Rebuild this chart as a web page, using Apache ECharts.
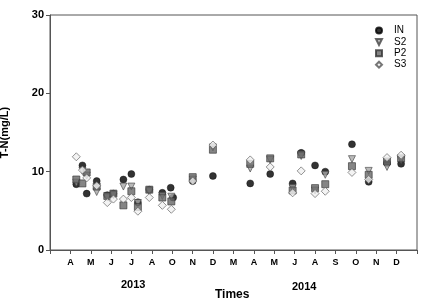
<!DOCTYPE html>
<html>
<head>
<meta charset="utf-8">
<script src="https://cdn.jsdelivr.net/npm/echarts@6/dist/echarts.min.js"></script>
<style>
  html, body { margin: 0; padding: 0; background: #fff; }
  #chart { width: 422px; height: 299px; }
</style>
</head>
<body>
<div id="chart"></div>
<script>
// month tick labels, one per x unit (0 and 18 are blank ends)
const monthLabels = ['', 'A', 'M', 'J', 'J', 'A', 'O', 'N', 'D', 'M', 'A', 'M', 'J', 'A', 'S', 'O', 'N', 'D', '']
const yearLabels = ['2013', '2014']

// sampling positions on the month axis
const sampleX = [1.29, 1.59, 1.80, 2.29, 2.81, 3.11, 3.60, 3.99, 4.31, 4.87, 5.51, 5.95, 7.0,
  7.99, 9.82, 10.8, 11.9, 12.32, 13.0, 13.5, 14.81, 15.63, 16.53, 17.22]
const inX = [1.29, 1.59, 1.80, 2.29, 2.81, 3.11, 3.60, 3.99, 4.31, 4.87, 5.51, 5.92, 6.04, 7.0,
  7.99, 9.82, 10.8, 11.9, 12.32, 13.0, 13.5, 14.81, 15.63, 16.53, 17.22]

// T-N (mg/L)
const IN = [8.4, 10.8, 7.2, 8.8, 7.0, 7.2, 9.0, 9.7, 6.1, 7.7, 7.3, 7.95, 6.7, 8.8,
  9.45, 8.5, 9.7, 8.5, 12.4, 10.8, 10.0, 13.5, 8.7, 11.1, 11.0]
const S2 = [8.6, 10.1, 9.5, 7.4, 6.7, 7.0, 8.1, 8.1, 6.0, 7.5, 6.9, 6.8, 9.0,
  13.1, 10.4, 11.5, 7.9, 12.0, 7.6, 9.6, 11.6, 10.1, 10.6, 11.5]
const P2 = [9.0, 8.5, 9.9, 8.1, 6.9, 7.2, 5.7, 7.5, 5.5, 7.7, 6.7, 6.2, 9.3,
  12.8, 11.0, 11.7, 7.6, 12.2, 7.9, 8.4, 10.7, 9.6, 11.3, 11.7]
const S3 = [11.9, 10.2, 9.2, 8.2, 6.05, 6.5, 6.5, 6.7, 4.95, 6.7, 5.7, 5.2, 8.8,
  13.4, 11.5, 10.6, 7.3, 10.1, 7.2, 7.5, 9.9, 9.0, 11.8, 12.1]

const pairs = (xs, ys) => ys.map((v, i) => [xs[i], v])
const font = 'Liberation Sans, Arial, sans-serif'
const downTriangle = 'path://M0,0 L10,0 L5,10 Z'

const chart = echarts.init(document.getElementById('chart'), null, {renderer: 'canvas'})

const option = {
  animation: false,
  grid: {
    left: 50, top: 15, right: 5, bottom: 49,
    outerBoundsMode: 'none',
    containLabel: false,
    show: true,
    borderColor: '#555',
    borderWidth: 1
  },
  legend: {
    orient: 'vertical',
    left: 370,
    top: 20,
    itemWidth: 6,
    itemHeight: 6,
    itemGap: 0.4,
    textStyle: {
      fontFamily: font,
      fontSize: 10,
      lineHeight: 11,
      color: '#000',
      padding: [0, 0, 0, 7]
    },
    data: ['IN', {name: 'S2', icon: downTriangle}, 'P2', 'S3']
  },
  xAxis: {
    type: 'value',
    min: 0,
    max: 18,
    interval: 1,
    splitLine: {show: false},
    axisLine: {lineStyle: {color: '#555'}},
    axisTick: {length: 4, lineStyle: {color: '#555'}},
    axisLabel: {
      margin: 8,
      fontFamily: font,
      fontSize: 9,
      fontWeight: 'bold',
      color: '#000',
      showMinLabel: true,
      showMaxLabel: true,
      formatter: v => monthLabels[v] || ''
    }
  },
  yAxis: {
    type: 'value',
    min: 0,
    max: 30,
    interval: 10,
    name: 'T-N(mg/L)',
    nameLocation: 'middle',
    nameGap: 40,
    nameTextStyle: {fontFamily: font, fontSize: 11, fontWeight: 'bold', color: '#000'},
    splitLine: {show: false},
    axisLine: {show: true, lineStyle: {color: '#555'}},
    axisTick: {show: true, length: 4, lineStyle: {color: '#555'}},
    axisLabel: {
      margin: 6,
      fontFamily: font,
      fontSize: 11,
      fontWeight: 'bold',
      color: '#000'
    }
  },
  graphic: [
    {type: 'text', left: 121, top: 279, style: {text: yearLabels[0], font: 'bold 11px ' + font, fill: '#000'}},
    {type: 'text', left: 292, top: 281, style: {text: yearLabels[1], font: 'bold 11px ' + font, fill: '#000'}},
    {type: 'text', left: 215, top: 289, style: {text: 'Times', font: 'bold 12px ' + font, fill: '#000'}}
  ],
  series: [
    {
      name: 'IN', type: 'scatter', symbol: 'circle', symbolSize: 7,
      itemStyle: {color: '#000', borderColor: '#000', borderWidth: 0.5},
      data: pairs(inX, IN)
    },
    {
      name: 'S2', type: 'scatter', symbol: 'triangle', symbolSize: 7, symbolRotate: 180,
      itemStyle: {color: '#a8a8a8', borderColor: '#444', borderWidth: 0.8},
      data: pairs(sampleX, S2)
    },
    {
      name: 'P2', type: 'scatter', symbol: 'rect', symbolSize: 7,
      itemStyle: {color: '#666', borderColor: '#333', borderWidth: 0.8},
      data: pairs(sampleX, P2)
    },
    {
      name: 'S3', type: 'scatter', symbol: 'diamond', symbolSize: 8,
      itemStyle: {color: '#f0f0f0', borderColor: '#555', borderWidth: 0.8},
      data: pairs(sampleX, S3)
    }
  ]
}

chart.setOption(option)
</script>
</body>
</html>
